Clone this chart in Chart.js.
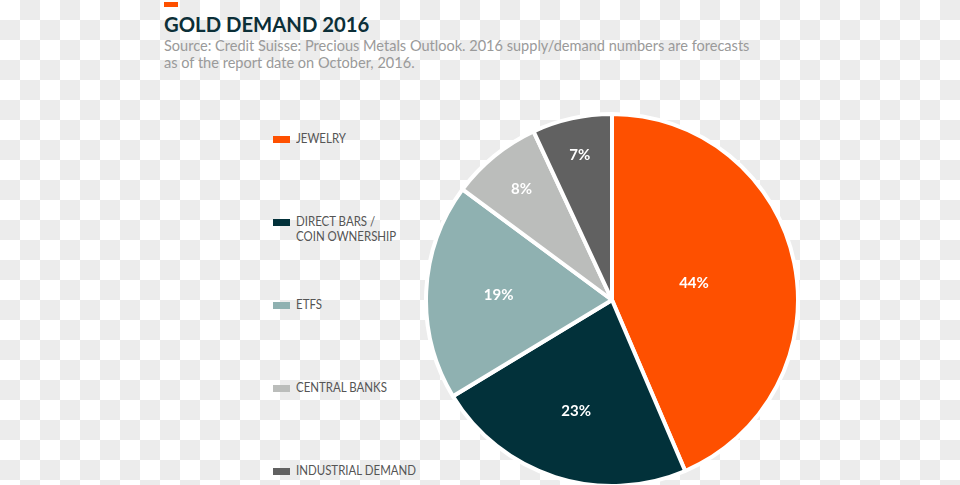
<!DOCTYPE html>
<html>
<head>
<meta charset="utf-8">
<script src="https://cdn.jsdelivr.net/npm/chart.js@4"></script>
<style>
  html, body { margin:0; padding:0; }
  body {
    width:960px; height:485px; overflow:hidden; position:relative;
    background-color:#fff;
    background-image: repeating-conic-gradient(#ececec 0 25%, #ffffff 0 50%);
    background-size:40px 40px;
    font-family: Lato, "Open Sans", sans-serif;
  }
  #mark { position:absolute; left:164px; top:2px; width:14px; height:5px; background:#fe5000; }
  #title { position:absolute; left:164px; top:12px; font-size:20.3px; line-height:24px; font-weight:700; color:#0c2f38; white-space:nowrap; }
  #sub { position:absolute; left:164px; top:37px; font-size:14.55px; line-height:17px; color:#9a9a9a; white-space:nowrap; }
  #legend { position:absolute; left:273px; top:0; width:300px; }
  .sw { position:absolute; left:0; width:17px; height:7px; }
  .tx { position:absolute; left:23px; font-size:13.5px; line-height:15px; color:#555; white-space:nowrap; transform:scaleX(0.85); transform-origin:0 0; }
  #wrap { position:absolute; left:422px; top:110px; width:380px; height:380px; }
</style>
</head>
<body>
<div id="mark"></div>
<div id="title">GOLD DEMAND 2016</div>
<div id="sub">Source: Credit Suisse: Precious Metals Outlook. 2016 supply/demand numbers are forecasts<br>as of the report date on October, 2016.</div>
<div id="legend"></div>
<div id="wrap"><canvas id="c" width="380" height="380"></canvas></div>
<script>
const categories = ["JEWELRY", "DIRECT BARS / COIN OWNERSHIP", "ETFS", "CENTRAL BANKS", "INDUSTRIAL DEMAND"];
const legendLines = [["JEWELRY"], ["DIRECT BARS /", "COIN OWNERSHIP"], ["ETFS"], ["CENTRAL BANKS"], ["INDUSTRIAL DEMAND"]];
const shares = [44, 23, 19, 8, 7];
const shareLabels = ["44%", "23%", "19%", "8%", "7%"];
const colors = ["#fe5000", "#02313a", "#8fb1b1", "#bbbdbb", "#616161"];

// legend
const legendTops = [139, 222, 305, 388, 471];
const lg = document.getElementById('legend');
categories.forEach((c, i) => {
  const sw = document.createElement('div');
  sw.className = 'sw';
  sw.style.top = (legendTops[i] - 3) + 'px';
  sw.style.background = colors[i];
  lg.appendChild(sw);
  const tx = document.createElement('div');
  tx.className = 'tx';
  tx.style.top = (legendTops[i] - 8) + 'px';
  tx.innerHTML = legendLines[i].join('<br>');
  lg.appendChild(tx);
});

const labelRatio = [0.45, 0.63, 0.61, 0.77, 0.80];
const sliceLabels = {
  id: 'sliceLabels',
  afterDatasetsDraw(chart) {
    const ctx = chart.ctx;
    const meta = chart.getDatasetMeta(0);
    ctx.save();
    ctx.fillStyle = '#fff';
    ctx.font = 'bold 15px Lato, "Open Sans", sans-serif';
    ctx.textAlign = 'center';
    ctx.textBaseline = 'middle';
    meta.data.forEach((arc, i) => {
      const p = arc.getProps(['x','y','startAngle','endAngle','outerRadius'], true);
      const a = (p.startAngle + p.endAngle) / 2;
      const r = p.outerRadius * labelRatio[i];
      ctx.fillText(shareLabels[i], p.x + Math.cos(a) * r, p.y + Math.sin(a) * r);
    });
    ctx.restore();
  }
};

new Chart(document.getElementById('c'), {
  type: 'pie',
  data: {
    labels: categories,
    datasets: [{
      data: shares,
      backgroundColor: colors,
      borderColor: '#ffffff',
      borderWidth: 4,
      hoverOffset: 0
    }]
  },
  options: {
    responsive: false,
    animation: false,
    layout: { padding: 2 },
    plugins: { legend: { display: false }, tooltip: { enabled: false } }
  },
  plugins: [sliceLabels]
});
</script>
</body>
</html>
